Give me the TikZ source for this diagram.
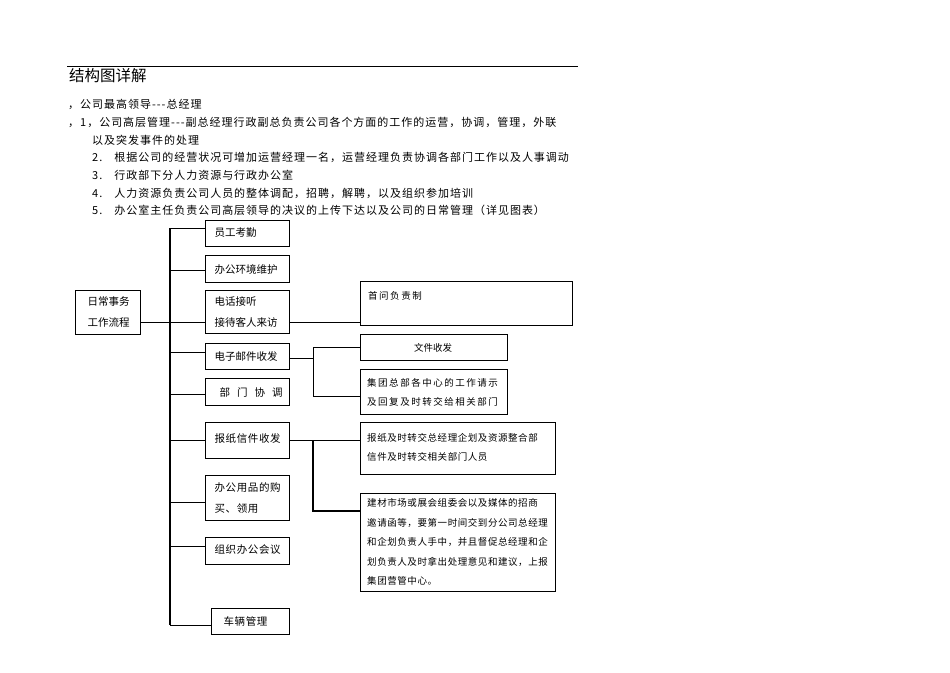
\documentclass[tikz,border=0pt]{standalone}
\usepackage{fontspec}
\setmainfont{Noto Sans CJK SC}
\newfontfamily\lsa[LetterSpace=9]{Noto Sans CJK SC}
\newfontfamily\lsb[LetterSpace=16]{Noto Sans CJK SC}
\newfontfamily\lsc[LetterSpace=6]{Noto Sans CJK SC}
\begin{document}
\begin{tikzpicture}[x=1pt,y=-1pt,
  bx/.style={draw,line width=0.9pt,inner sep=0pt},
  tx/.style={font=\fontsize{10.5}{21}\selectfont,align=left,anchor=west},
  rt/.style={anchor=west,align=left,inner sep=0pt},
  ln/.style={line width=0.8pt}]
\useasboundingbox (0,0) rectangle (950,672);
\draw[line width=0.6pt] (67,66) -- (578,66);
\node[anchor=west,inner sep=0pt,font=\fontsize{15.5}{17}\selectfont] (title) at (69,76) {结构图详解};
\begin{scope}[every node/.style={anchor=west,inner sep=0pt,font=\lsa\fontsize{11}{12}\selectfont}]
\node (l1) at (68,104) {，公司最高领导{-}{-}{-}总经理};
\node (l2) at (68,122) {，1，公司高层管理{-}{-}{-}副总经理行政副总负责公司各个方面的工作的运营，协调，管理，外联};
\node (l3) at (92,140) {以及突发事件的处理};
\node (l4) at (92,157) {2.\hspace{12pt}根据公司的经营状况可增加运营经理一名，运营经理负责协调各部门工作以及人事调动};
\node (l5) at (92,175) {3.\hspace{12pt}行政部下分人力资源与行政办公室};
\node (l6) at (92,193) {4.\hspace{12pt}人力资源负责公司人员的整体调配，招聘，解聘，以及组织参加培训};
\node (l7) at (92,210) {5.\hspace{12pt}办公室主任负责公司高层领导的决议的上传下达以及公司的日常管理（详见图表）};
\end{scope}
% boxes
\draw[bx] (75,290) rectangle (140,334);
\node[tx] (root) at (84,312) {日常事务\\工作流程};
\draw[bx] (205,220) rectangle (289,246); \node[tx] at (211,233) {员工考勤};
\draw[bx] (205,255) rectangle (289,282); \node[tx] at (211,269) {办公环境维护};
\draw[bx] (205,290) rectangle (289,333); \node[tx] at (211,312) {电话接听\\接待客人来访};
\draw[bx] (205,343) rectangle (289,369); \node[tx] at (211,356) {电子邮件收发};
\draw[bx] (205,378) rectangle (289,405); \node[tx] at (216,392) {部\hspace{7pt}门\hspace{7pt}协\hspace{7pt}调};
\draw[bx] (205,422) rectangle (289,458); \node[tx,font=\lsc\fontsize{10.5}{21}\selectfont] at (211,438) {报纸信件收发};
\draw[bx] (205,475) rectangle (289,520); \node[tx,font=\lsc\fontsize{10.5}{21}\selectfont] at (211,498) {办公用品的购\\买、领用};
\draw[bx] (205,537) rectangle (289,564); \node[tx,font=\lsc\fontsize{10.5}{21}\selectfont] at (211,550) {组织办公会议};
\draw[bx] (211,608) rectangle (289,634); \node[tx,font=\lsc\fontsize{10.5}{21}\selectfont] at (220,621) {车辆管理};
\draw[bx] (360,281) rectangle (572,325); \node[rt,font=\lsb\fontsize{9.5}{10}\selectfont] at (368,296) {首问负责制};
\draw[bx] (360,334) rectangle (507,360); \node[font=\fontsize{9.5}{10}\selectfont] at (433,348) {文件收发};
\draw[bx] (360,369) rectangle (507,414); \node[rt,font=\lsb\fontsize{9.5}{19}\selectfont] at (367,392) {集团总部各中心的工作请示\\及回复及时转交给相关部门};
\draw[bx] (360,422) rectangle (555,474); \node[rt,font=\lsc\fontsize{9.5}{19}\selectfont] at (367,447) {报纸及时转交总经理企划及资源整合部\\信件及时转交相关部门人员};
\draw[bx] (360,493) rectangle (555,591); \node[rt,font=\lsc\fontsize{9.5}{19.5}\selectfont] at (367,542) {建材市场或展会组委会以及媒体的招商\\邀请函等，要第一时间交到分公司总经理\\和企划负责人手中，并且督促总经理和企\\划负责人及时拿出处理意见和建议，上报\\集团营管中心。};
% connectors
\draw[ln] (140,322) -- (170,322);
\draw[line width=1.2pt] (170,228) -- (170,625);
\foreach \y/\x in {228/205,270/205,322/205,352/205,394/205,440/205,502/205,546/205,625/211}
  \draw[ln] (170,\y) -- (\x,\y);
\draw[ln] (289,322) -- (360,322);
\draw[ln] (289,358) -- (313,358);
\draw[ln] (313,347) -- (313,396);
\draw[ln] (313,347) -- (360,347);
\draw[ln] (313,396) -- (360,396);
\draw[ln] (289,440) -- (360,440);
\draw[line width=1.2pt] (313,440) -- (313,511) -- (360,511);
\end{tikzpicture}
\end{document}
